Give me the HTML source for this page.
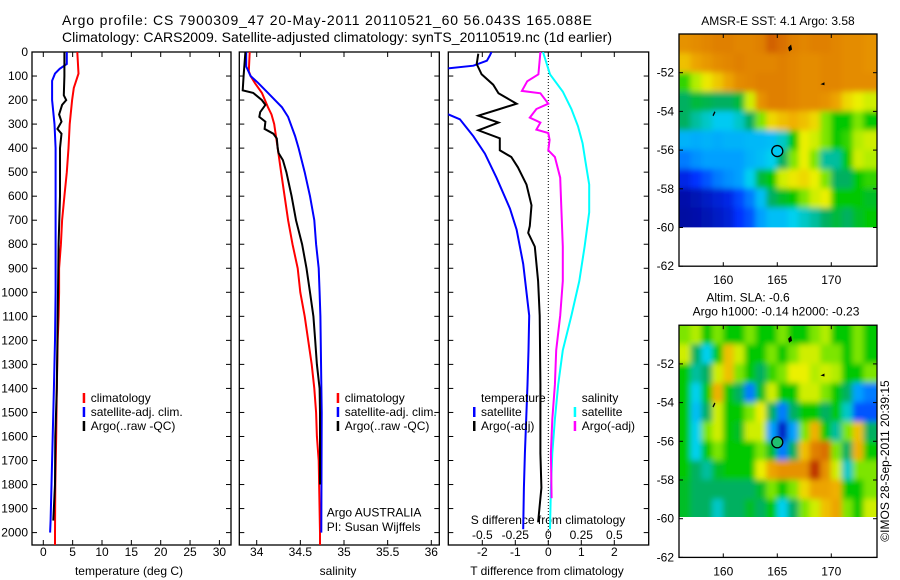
<!DOCTYPE html>
<html><head><meta charset="utf-8"><style>
html,body{margin:0;padding:0;background:#fff;}
svg{display:block;font-family:"Liberation Sans",Arial,sans-serif;}
</style></head><body>
<svg id="chart" width="900" height="580" viewBox="0 0 900 580" xmlns="http://www.w3.org/2000/svg">
<defs>
<clipPath id="cp1"><rect x="32" y="52" width="199" height="493"/></clipPath>
<clipPath id="cp2"><rect x="239.3" y="52" width="200" height="493"/></clipPath>
<clipPath id="cp3"><rect x="448.3" y="52" width="200.4" height="493"/></clipPath>
<clipPath id="cpm1"><rect x="679" y="34" width="198" height="193.4"/></clipPath>
<clipPath id="cpm2"><rect x="679" y="325.2" width="198" height="191.8"/></clipPath>
<filter id="blur" x="-10%" y="-10%" width="120%" height="120%"><feGaussianBlur stdDeviation="2.8"/></filter>
</defs>
<text x="62" y="25" font-size="14" textLength="530">Argo profile: CS 7900309_47 20-May-2011 20110521_60 56.043S 165.088E</text>
<text x="62" y="42" font-size="14" textLength="550">Climatology: CARS2009. Satellite-adjusted climatology: synTS_20110519.nc (1d earlier)</text>
<g id="g"></g>
</svg>
<script>
// ---- data ----
const tClimD=[0,90,150,200,300,400,500,600,700,800,900,1000,1100,1200,1400,1600,1800,2000,2060];
const tClimV=[5.8,6.0,5.2,4.9,4.5,4.3,4.0,3.6,3.2,3.0,2.7,2.7,2.6,2.45,2.3,2.2,2.05,2.0,2.0];
const tSatD=[0,50,70,90,120,200,300,400,600,1000,1200,1400,1600,1800,1950,2000];
const tSatV=[4.0,4.0,2.8,2.0,1.5,1.5,1.9,2.1,2.1,2.1,2.0,1.8,1.6,1.4,1.25,1.15];
const tArgoD=[0,100,180,200,220,260,290,320,340,400,600,800,1000,1200,1400,1600,1800,1950];
const tArgoV=[3.6,3.6,3.5,3.9,3.2,2.7,3.1,2.4,3.1,2.85,2.85,2.6,2.5,2.4,2.3,2.05,2.0,1.7];
const sClimD=[0,80,100,130,170,230,260,300,400,500,600,700,800,900,1000,1100,1200,1300,1400,1500,1600,1700,2000,2060];
const sClimV=[33.92,33.91,33.93,33.98,34.06,34.13,34.17,34.2,34.24,34.28,34.32,34.36,34.41,34.47,34.5,34.55,34.59,34.63,34.66,34.68,34.69,34.71,34.725,34.725];
const sSatD=[0,60,100,130,170,230,270,350,400,500,600,700,800,900,1000,1100,1500,2000];
const sSatV=[33.88,33.88,33.93,34.02,34.13,34.29,34.36,34.44,34.48,34.55,34.61,34.66,34.68,34.71,34.72,34.73,34.745,34.74];
const sArgoD=[0,100,160,170,200,220,250,270,290,320,340,360,400,420,450,500,600,700,800,900,1000,1100,1200,1300,1400,1500,1800];
const sArgoV=[33.87,33.85,33.84,33.96,34.06,34.1,34.04,34.03,34.1,34.09,34.19,34.23,34.24,34.25,34.3,34.34,34.4,34.45,34.52,34.57,34.61,34.65,34.67,34.69,34.72,34.725,34.725];
const dTSatD=[0,14,36,57,72,244,280,351,423,523,652,739,882,1097,1241,1384,1528,1670,1814,1986];
const dTSatV=[-1.72,-1.77,-1.86,-2.27,-3.3,-3.3,-2.68,-2.27,-1.92,-1.57,-1.16,-0.96,-0.76,-0.58,-0.6,-0.63,-0.67,-0.71,-0.74,-0.76];
const dTArgoD=[7,50,93,136,172,215,237,265,294,326,359,409,437,480,552,638,724,753,810,953,1097,1384,1670,1814,1957];
const dTArgoV=[-2.12,-2.17,-2.02,-1.67,-1.51,-0.96,-1.47,-2.12,-1.51,-2.12,-1.47,-1.47,-1.12,-0.92,-0.66,-0.51,-0.56,-0.61,-0.41,-0.31,-0.26,-0.24,-0.24,-0.21,-0.31];
const dSSatD=[0,93,165,237,309,380,452,552,667,810,953,1097,1241,1384,1528,1670,1814,1986];
const dSSatV=[-0.04,0.013,0.11,0.175,0.225,0.26,0.28,0.31,0.31,0.275,0.235,0.175,0.11,0.075,0.05,0.03,0.02,0.013];
const dSArgoD=[0,93,122,162,172,215,237,273,294,323,337,366,409,437,523,667,810,953,1097,1241,1384,1528,1670,1857];
const dSArgoV=[-0.06,-0.075,-0.16,-0.2,-0.06,0,-0.09,-0.14,-0.06,-0.09,0,0.01,0,0.05,0.09,0.1,0.11,0.11,0.09,0.06,0.05,0.03,0.02,0.025];
const depthTicks=[0,100,200,300,400,500,600,700,800,900,1000,1100,1200,1300,1400,1500,1600,1700,1800,1900,2000];
const tTicks=[0,5,10,15,20,25,30];
const sTicks=[34,34.5,35,35.5,36];
const sTickLabels=["34","34.5","35","35.5","36"];
const dTTicks=[-2,-1,0,1,2];
const dSTicks=[-0.5,-0.25,0,0.25,0.5];
const dSTickLabels=["-0.5","-0.25","0","0.25","0.5"];
const lonTicks=[160,165,170];
const latTicks=[-52,-54,-56,-58,-60,-62];
// SST map (colour index 0..1), rows lat -50..-60, cols lon 156..174
const sstGrid=[
[.75,.76,.77,.78,.78,.77,.77,.78,.82,.8,.78,.77,.78,.78,.77,.76,.76,.75],
[.68,.72,.74,.76,.77,.78,.77,.77,.77,.78,.77,.76,.76,.77,.77,.76,.76,.75],
[.52,.58,.63,.67,.72,.76,.77,.78,.78,.78,.77,.76,.76,.77,.77,.76,.76,.76],
[.45,.47,.46,.45,.45,.47,.6,.75,.78,.78,.77,.76,.76,.75,.72,.65,.62,.6],
[.45,.42,.4,.37,.37,.4,.45,.55,.65,.68,.7,.68,.65,.55,.5,.5,.55,.5],
[.33,.32,.33,.32,.33,.33,.34,.34,.35,.4,.5,.62,.6,.55,.5,.52,.58,.6],
[.25,.28,.3,.3,.3,.3,.33,.35,.38,.45,.55,.62,.55,.42,.42,.5,.6,.58],
[.12,.15,.2,.25,.28,.3,.38,.47,.5,.6,.63,.65,.62,.55,.45,.45,.5,.52],
[.05,.06,.08,.1,.12,.18,.25,.35,.45,.48,.5,.55,.6,.62,.5,.5,.5,.48],
[.04,.05,.06,.08,.1,.15,.2,.3,.35,.35,.38,.4,.42,.45,.47,.45,.48,.5]];
const slaGrid=[
[.55,.58,.5,.55,.5,.5,.55,.5,.5,.55,.5,.5,.55,.58,.5,.5,.55,.5],
[.6,.45,.38,.5,.68,.6,.5,.5,.55,.5,.55,.6,.6,.55,.55,.5,.55,.5],
[.5,.42,.45,.6,.68,.55,.5,.45,.52,.55,.62,.62,.58,.6,.58,.5,.5,.55],
[.5,.38,.5,.7,.5,.45,.25,.48,.6,.5,.5,.6,.6,.55,.5,.45,.3,.25],
[.5,.35,.45,.6,.5,.5,.55,.62,.45,.25,.45,.5,.5,.45,.5,.4,.2,.2],
[.5,.38,.55,.6,.5,.48,.6,.6,.3,.08,.3,.55,.7,.5,.42,.55,.68,.45],
[.5,.38,.5,.55,.5,.5,.5,.55,.48,.25,.45,.68,.78,.8,.55,.45,.7,.5],
[.5,.45,.42,.48,.5,.5,.5,.62,.72,.75,.75,.75,.88,.75,.6,.4,.55,.55],
[.48,.45,.45,.45,.45,.45,.45,.48,.55,.5,.55,.65,.72,.72,.7,.5,.5,.55],
[.48,.45,.45,.4,.45,.45,.48,.45,.5,.38,.45,.55,.6,.68,.72,.55,.5,.6]];
const cmapPos=[0,0.15,0.3,0.38,0.45,0.5,0.56,0.62,0.7,0.78,0.88,1];
const cmapCol=[[0,0,128],[0,48,255],[0,160,255],[0,208,240],[0,176,96],[0,200,0],[150,235,0],[235,240,0],[240,176,0],[224,128,0],[190,48,0],[128,0,0]];

// ---- scales ----
const NS="http://www.w3.org/2000/svg";
const g=document.getElementById('g');
const yD=d=>52+d*0.2403;
const xT=v=>43.3+5.87*v;
const xS=v=>256.7+87.3*(v-34);
const xdT=v=>548.3+33*v;
const xdS=v=>548.3+132*v;
function el(tag,attrs,parent){const e=document.createElementNS(NS,tag);for(const k in attrs)e.setAttribute(k,attrs[k]);(parent||g).appendChild(e);return e;}
function txt(x,y,s,size,anchor,parent){const t=el('text',{x:x,y:y,'font-size':size||12,'text-anchor':anchor||'start','dominant-baseline':'central'},parent);t.textContent=s;return t;}
function line(ds,vs,fx,color,clip,name){
  const pts=ds.map((d,i)=>fx(vs[i]).toFixed(1)+','+yD(d).toFixed(1)).join(' ');
  const p=el('polyline',{points:pts,fill:'none',stroke:color,'stroke-width':2,'clip-path':'url(#'+clip+')'});
  
  
}
function frame(x,y,w,h,name){
  const r=el('rect',{x:x,y:y,width:w,height:h,fill:'none',stroke:'#000','stroke-width':1.3});
  
  
}
const panels=[[32,199],[239.3,200],[448.3,200.4]];
panels.forEach((p,i)=>{
  frame(p[0],52,p[1],493,'profile-panel-'+(i+1));
  depthTicks.forEach(d=>{
    el('line',{x1:p[0],x2:p[0]+5,y1:yD(d),y2:yD(d),stroke:'#000'});
    el('line',{x1:p[0]+p[1]-5,x2:p[0]+p[1],y1:yD(d),y2:yD(d),stroke:'#000'});
  });
});
depthTicks.forEach(d=>{const t=txt(28,yD(d),String(d),12,'end');
  
  });
function xticks(ticks,labels,fx,name){
  ticks.forEach((v,i)=>{const x=fx(v);
    el('line',{x1:x,x2:x,y1:52,y2:57,stroke:'#000'});
    el('line',{x1:x,x2:x,y1:540,y2:545,stroke:'#000'});
    const t=txt(x,552,labels[i],12,'middle');
    
    });
}
xticks(tTicks,tTicks.map(String),xT,'temperature-tick-label');
xticks(sTicks,sTickLabels,xS,'salinity-tick-label');
xticks(dTTicks,dTTicks.map(String),xdT,'t-diff-tick-label');
dSTicks.forEach((v,i)=>{const t=txt(xdS(v),535,dSTickLabels[i],12,'middle');
  
  });
let t;
t=txt(129,571,'temperature (deg C)',12,'middle');
t=txt(338,571,'salinity',12,'middle');
t=txt(547,571,'T difference from climatology',12,'middle');
t=txt(548,520,'S difference from climatology',12,'middle');
el('line',{x1:548.3,x2:548.3,y1:52,y2:545,stroke:'#000','stroke-dasharray':'1,2'});
line(tClimD,tClimV,xT,'#ff0000','cp1','temp-climatology-line');
line(tSatD,tSatV,xT,'#0000ff','cp1','temp-satellite-line');
line(tArgoD,tArgoV,xT,'#000000','cp1','temp-argo-line');
line(sClimD,sClimV,xS,'#ff0000','cp2','sal-climatology-line');
line(sSatD,sSatV,xS,'#0000ff','cp2','sal-satellite-line');
line(sArgoD,sArgoV,xS,'#000000','cp2','sal-argo-line');
line(dSSatD,dSSatV,xdS,'#00ffff','cp3','s-diff-satellite-line');
line(dSArgoD,dSArgoV,xdS,'#ff00ff','cp3','s-diff-argo-line');
line(dTSatD,dTSatV,xdT,'#0000ff','cp3','t-diff-satellite-line');
line(dTArgoD,dTArgoV,xdT,'#000000','cp3','t-diff-argo-line');
function leg(x,y,color,label,name){
  const gg=el('g',{});
  
  
  if(color) el('rect',{x:x-8,y:y-5,width:2.5,height:10,fill:color},gg);
  txt(x,y,label,12,'start',gg);
}
leg(90.7,398,'#ff0000','climatology','legend-temp-climatology');
leg(90.7,412,'#0000ff','satellite-adj. clim.','legend-temp-satellite');
leg(90.7,426,'#000000','Argo(..raw -QC)','legend-temp-argo');
leg(344.7,398,'#ff0000','climatology','legend-sal-climatology');
leg(344.7,412,'#0000ff','satellite-adj. clim.','legend-sal-satellite');
leg(344.7,426,'#000000','Argo(..raw -QC)','legend-sal-argo');
leg(481,398,null,'temperature','legend-diff-temperature-header');
leg(481,412,'#0000ff','satellite','legend-diff-t-satellite');
leg(481,426,'#000000','Argo(-adj)','legend-diff-t-argo');
leg(581.7,398,null,'salinity','legend-diff-salinity-header');
leg(581.7,412,'#00ffff','satellite','legend-diff-s-satellite');
leg(581.7,426,'#ff00ff','Argo(-adj)','legend-diff-s-argo');
t=txt(326.7,512.7,'Argo AUSTRALIA',12);
t=txt(326.7,527,'PI: Susan Wijffels',12);

// ---- maps ----
function cmap(v){
  v=Math.min(Math.max(v,0),1);
  let i=0;while(i<cmapPos.length-2&&v>cmapPos[i+1])i++;
  const f=(v-cmapPos[i])/(cmapPos[i+1]-cmapPos[i]);
  const a=cmapCol[i],b=cmapCol[i+1];
  return 'rgb('+a.map((c,k)=>Math.round(c+(b[k]-c)*f)).join(',')+')';
}
const xLon=lon=>679+(lon-155.9)*10.8;
function map(grid,top,clip,name,markFill){
  const pxLat=19.35;
  const yLat=lat=>top+(-50-lat)*pxLat;
  const gm=el('g',{'clip-path':'url(#'+clip+')'});
  
  
  const inner=el('g',{filter:'url(#blur)'},gm);
  for(let r=-1;r<=10;r++)for(let c=-1;c<=18;c++){
    const rr=Math.min(Math.max(r,0),9),cc=Math.min(Math.max(c,0),17);
    const cell=el('rect',{x:xLon(156+c)-0.3,y:yLat(-50-r)-0.3,width:11.4,height:pxLat+0.6,fill:cmap(grid[rr][cc])},inner);
    
    
  }
  el('path',{d:`M${xLon(166)} ${yLat(-50.7)} l3 -3 l1 5 l-3 2 z`,fill:'#000'},gm);
  el('path',{d:`M${xLon(169)} ${yLat(-52.6)} l4 -2 l0 3 z`,fill:'#000'},gm);
  el('path',{d:`M${xLon(159)} ${yLat(-54.2)} l2 -4 l1 1 l-2 4 z`,fill:'#000'},gm);
  const m=el('circle',{cx:xLon(165),cy:yLat(-56.05),r:5.5,fill:markFill,stroke:'#000','stroke-width':1.3});
  
  
  const bottom=yLat(-62);
  frame(679,top,198,bottom-top,name+'-frame');
  lonTicks.forEach(l=>{const x=xLon(l);
    el('line',{x1:x,x2:x,y1:top,y2:top+4,stroke:'#000'});
    el('line',{x1:x,x2:x,y1:bottom-4,y2:bottom,stroke:'#000'});
    const tt=txt(x,bottom+14,String(l),12,'middle');
    
    });
  latTicks.forEach(l=>{const y=yLat(l);
    el('line',{x1:679,x2:683,y1:y,y2:y,stroke:'#000'});
    el('line',{x1:873,x2:877,y1:y,y2:y,stroke:'#000'});
    const tt=txt(674,y,String(l),12,'end');
    
    });
}
map(sstGrid,34,'cpm1','sst-map','#00c8f0');
map(slaGrid,325.2,'cpm2','sla-map','#20c070');
t=txt(778,21,'AMSR-E SST: 4.1 Argo: 3.58',12,'middle');
t=txt(748,297.5,'Altim. SLA: -0.6',12,'middle');
t=txt(776,311.5,'Argo h1000: -0.14 h2000: -0.23',12,'middle');
t=txt(0,0,'©IMOS 28-Sep-2011 20:39:15',12,'middle');
t.setAttribute('transform','translate(885,461) rotate(-90)');

</script>
</body></html>
